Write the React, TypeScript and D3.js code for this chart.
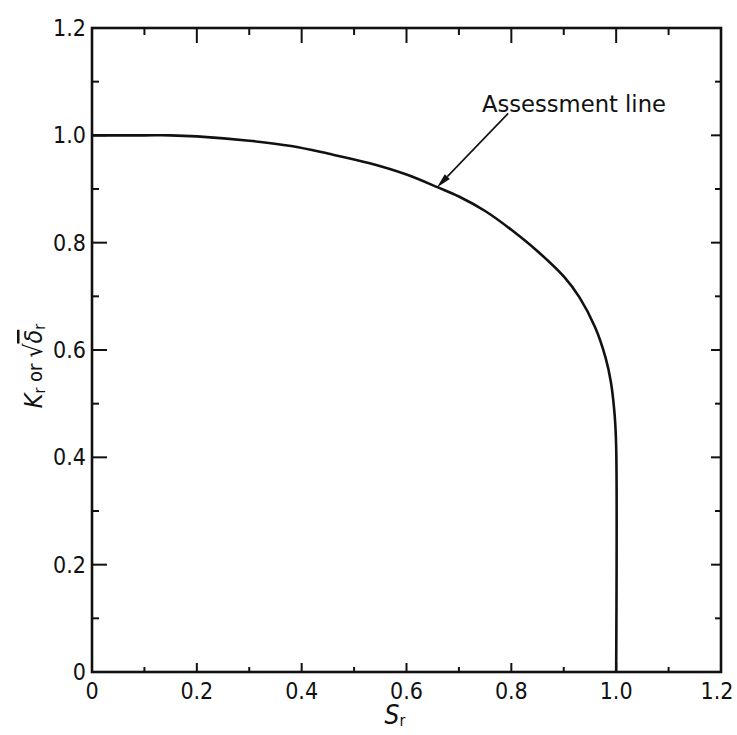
import React from 'react';
import * as d3 from 'd3';

// values
const srValues = [0, 0.1, 0.15, 0.2, 0.3, 0.38, 0.45, 0.53, 0.6, 0.66, 0.7, 0.75, 0.8, 0.85, 0.9, 0.93, 0.96, 0.98, 0.99, 0.997, 1.0, 1.0];
const krValues = [1.0, 1.0, 1.0, 0.998, 0.99, 0.98, 0.966, 0.948, 0.927, 0.903, 0.886, 0.859, 0.824, 0.784, 0.737, 0.698, 0.642, 0.585, 0.54, 0.48, 0.42, 0];

const majorTicks = [0, 0.2, 0.4, 0.6, 0.8, 1.0, 1.2];
const minorTicks = [0.1, 0.3, 0.5, 0.7, 0.9, 1.1];
const xTickLabels = ['0', '0.2', '0.4', '0.6', '0.8', '1.0', '1.2'];
const yTickLabels = ['0', '0.2', '0.4', '0.6', '0.8', '1.0', '1.2'];

const noteText = 'Assessment line';
const noteAt = [0.744, 1.043];
const arrowFrom = [0.794, 1.041];
const arrowTo = [0.658, 0.903];

const W = 737;
const H = 735;
const margin = { top: 28, right: 16, bottom: 63, left: 92 };
const font = '"DejaVu Sans Condensed", "DejaVu Sans", sans-serif';
const ink = '#111';

export default function App() {
  const x = d3.scaleLinear().domain([0, 1.2]).range([margin.left, W - margin.right]);
  const y = d3.scaleLinear().domain([0, 1.2]).range([H - margin.bottom, margin.top]);
  const [x0, x1] = x.range();
  const [y0, y1] = y.range();

  const pts: [number, number][] = srValues.map((s, i) => [s, krValues[i]]);
  const line = d3.line<[number, number]>()
    .x(d => x(d[0]))
    .y(d => y(d[1]))
    .curve(d3.curveCatmullRom.alpha(0.5));

  // arrow geometry
  const ax0 = x(arrowFrom[0]), ay0 = y(arrowFrom[1]);
  const ax1 = x(arrowTo[0]), ay1 = y(arrowTo[1]);
  const ang = Math.atan2(ay1 - ay0, ax1 - ax0);
  const headLen = 15, headW = 3.5;
  const bx = ax1 - headLen * Math.cos(ang), by = ay1 - headLen * Math.sin(ang);
  const head = [
    [ax1, ay1],
    [bx + headW * Math.sin(ang), by - headW * Math.cos(ang)],
    [bx - headW * Math.sin(ang), by + headW * Math.cos(ang)],
  ].map(p => p.join(',')).join(' ');

  return (
    <svg width={W} height={H} style={{ position: 'absolute', left: 0, top: 0, background: '#fff' }}
      fontFamily={font} fill={ink}>
      {/* ticks, all pointing inward */}
      <g stroke={ink} strokeWidth={2}>
        {majorTicks.slice(1, -1).map(t => (
          <g key={'M' + t}>
            <line x1={x0} x2={x0 + 15} y1={y(t)} y2={y(t)} />
            <line x1={x1} x2={x1 - 10} y1={y(t)} y2={y(t)} />
            <line x1={x(t)} x2={x(t)} y1={y1} y2={y1 + 15} />
            <line x1={x(t)} x2={x(t)} y1={y0} y2={y0 - 9} />
          </g>
        ))}
        {minorTicks.map(t => (
          <g key={'m' + t}>
            <line x1={x0} x2={x0 + 7} y1={y(t)} y2={y(t)} />
            <line x1={x1} x2={x1 - 6} y1={y(t)} y2={y(t)} />
            <line x1={x(t)} x2={x(t)} y1={y1} y2={y1 + 7} />
            <line x1={x(t)} x2={x(t)} y1={y0} y2={y0 - 5} />
          </g>
        ))}
      </g>

      {/* frame */}
      <rect x={x0} y={y1} width={x1 - x0} height={y0 - y1} fill="none" stroke={ink} strokeWidth={2.6} />

      {/* assessment curve */}
      <path d={line(pts) || ''} fill="none" stroke={ink} strokeWidth={2.6} />

      {/* tick labels */}
      <g fontSize={23}>
        {majorTicks.map((t, i) => (
          <text key={'xl' + t} x={Math.min(x(t), W - 20)} y={y0 + 27} textAnchor="middle">{xTickLabels[i]}</text>
        ))}
        {majorTicks.map((t, i) => (
          <text key={'yl' + t} x={x0 - 6} y={y(t) + 8} textAnchor="end">{yTickLabels[i]}</text>
        ))}
      </g>

      {/* axis titles */}
      <text x={x(0.578)} y={H - 11} fontSize={26} textAnchor="middle">
        <tspan fontStyle="italic">S</tspan>
        <tspan fontSize={16} dy={2}>r</tspan>
      </text>
      <text transform={`translate(42,${y(0.57)}) rotate(-90)`} fontSize={25} textAnchor="middle">
        <tspan fontStyle="italic">K</tspan>
        <tspan fontSize={16} dy={3}>r</tspan>
        <tspan fontSize={20} dy={-3}> or </tspan>
        <tspan>√</tspan>
        <tspan fontStyle="italic" style={{ textDecoration: 'overline' }}>δ</tspan>
        <tspan fontSize={16} dy={3}>r</tspan>
      </text>

      {/* annotation */}
      <text x={x(noteAt[0])} y={y(noteAt[1])} fontSize={23} textLength={184} lengthAdjust="spacingAndGlyphs">{noteText}</text>
      <line x1={ax0} y1={ay0} x2={bx} y2={by} stroke={ink} strokeWidth={1.6} />
      <polygon points={head} fill={ink} />
    </svg>
  );
}
